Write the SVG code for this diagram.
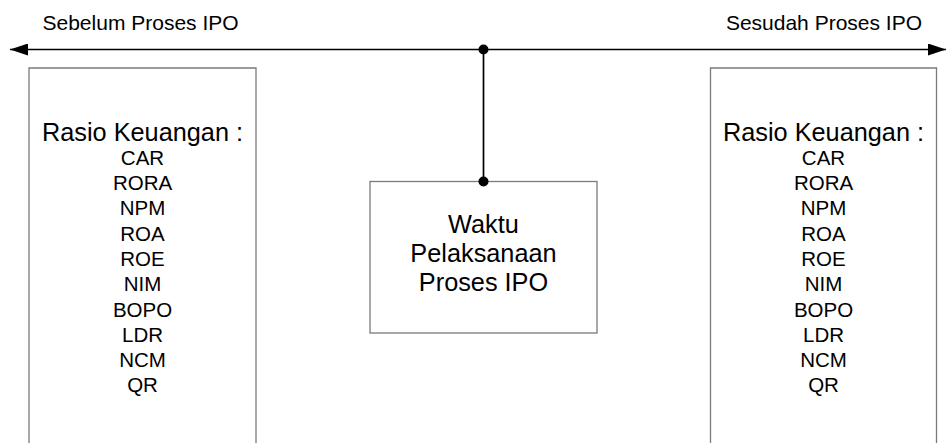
<svg xmlns="http://www.w3.org/2000/svg" width="946" height="443" viewBox="0 0 946 443">
<style>
text{font-family:"Liberation Sans",Arial,sans-serif;fill:#000}
.box{fill:#fff;stroke:#7a7a7a;stroke-width:1.3}
.ln{stroke:#000;stroke-width:1.7;fill:none}
.t21{font-size:20.5px}
.t25{font-size:25.3px}
.lab{font-size:21px}
.c{text-anchor:middle}
</style>
<defs>
<marker id="ah" viewBox="0 0 18 12" refX="18" refY="6" markerWidth="18" markerHeight="12" markerUnits="userSpaceOnUse" orient="auto-start-reverse">
<path d="M0,0 L18,6 L0,12 Z" fill="#000"/>
</marker>
</defs>
<rect width="946" height="443" fill="#fff"/>
<g id="label-sebelum"><text class="lab" x="42.5" y="30">Sebelum Proses IPO</text></g>
<g id="label-sesudah"><text class="lab" x="922" y="30" text-anchor="end">Sesudah Proses IPO</text></g>
<g id="node-left">
<path class="box" d="M29,443 V68 H256 V443"/>
<text class="t25" x="142.5" y="140.5" text-anchor="middle">Rasio Keuangan :</text>
<g class="t21 c">
<text x="142.5" y="164.5">CAR</text>
<text x="142.5" y="190">RORA</text>
<text x="142.5" y="215">NPM</text>
<text x="142.5" y="240.5">ROA</text>
<text x="142.5" y="266">ROE</text>
<text x="142.5" y="291">NIM</text>
<text x="142.5" y="316.5">BOPO</text>
<text x="142.5" y="342">LDR</text>
<text x="142.5" y="367">NCM</text>
<text x="142.5" y="392">QR</text>
</g>
</g>
<g id="node-center">
<rect class="box" x="370" y="181.5" width="227" height="151.5"/>
<g class="t25 c">
<text x="483.5" y="233">Waktu</text>
<text x="483.5" y="262">Pelaksanaan</text>
<text x="483.5" y="291">Proses IPO</text>
</g>
</g>
<g id="node-right">
<path class="box" d="M710.5,443 V68 H936.5 V443"/>
<text class="t25" x="823.5" y="140.5" text-anchor="middle">Rasio Keuangan :</text>
<g class="t21 c">
<text x="823.5" y="164.5">CAR</text>
<text x="823.5" y="190">RORA</text>
<text x="823.5" y="215">NPM</text>
<text x="823.5" y="240.5">ROA</text>
<text x="823.5" y="266">ROE</text>
<text x="823.5" y="291">NIM</text>
<text x="823.5" y="316.5">BOPO</text>
<text x="823.5" y="342">LDR</text>
<text x="823.5" y="367">NCM</text>
<text x="823.5" y="392">QR</text>
</g>
</g>
<g id="connectors">
<line class="ln" x1="10" y1="49.5" x2="946" y2="49.5" marker-start="url(#ah)" marker-end="url(#ah)"/>
<line class="ln" x1="483.5" y1="49.5" x2="483.5" y2="181.5"/>
<circle cx="483.5" cy="49.5" r="5" fill="#000"/>
<circle cx="483.5" cy="181.5" r="5" fill="#000"/>
</g>
</svg>
